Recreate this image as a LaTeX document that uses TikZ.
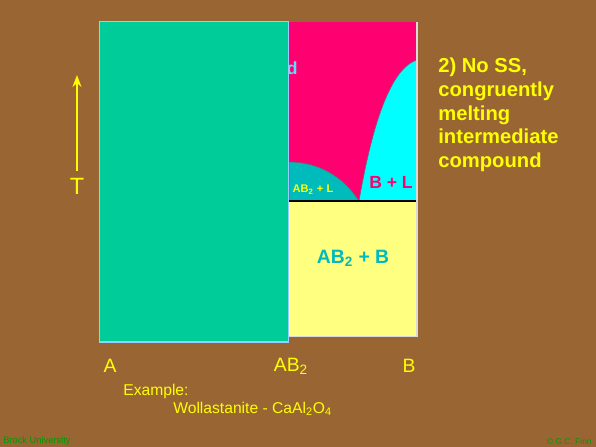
\documentclass[tikz,border=0pt]{standalone}
\usepackage{fontspec}
\setmainfont{Liberation Sans}
\usepackage{tikz}
\usetikzlibrary{arrows.meta,positioning}
\definecolor{slide}{HTML}{996633}
\definecolor{solidA}{HTML}{00CC99}
\definecolor{frameA}{HTML}{99CCFF}
\definecolor{liq}{HTML}{FF0070}
\definecolor{liqB}{HTML}{00FFFF}
\definecolor{liqAB}{HTML}{00BBBB}
\definecolor{solAB}{HTML}{FFFF80}
\definecolor{txty}{HTML}{FFFF00}
\definecolor{credit}{HTML}{009900}
\tikzset{
  pd/.style={x=0.02cm, y=-0.02cm, >=Stealth, every node/.style={inner sep=0pt, font=\sffamily}},
  field/.style={font=\bfseries},
  axlbl/.style={text=txty, font=\fontsize{11}{13}\selectfont},
  exlbl/.style={text=txty, font=\fontsize{8.9}{10}\selectfont, anchor=west},
  tarrow/.style={->, txty, line width=0.85pt, shorten >=0pt},
  credits/.style={text=credit}
}

\begin{document}
\begin{tikzpicture}[pd]
\fill[slide] (0,0) rectangle (596,447);
\useasboundingbox (0,0) rectangle (596,447);
% phase fields
\fill[liq] (289,22) rectangle (417,201);
\fill[solAB] (289,201) rectangle (417,336);
\filldraw[fill=liqAB, draw=black!60, line width=0.3pt] (289,201) -- (289,162) .. controls (318,162) and (343,176) .. (359,201) -- cycle;
\filldraw[fill=liqB, draw=black!60, line width=0.3pt] (359,201) .. controls (368,150) and (385,70) .. (417,60) -- (417,201) -- cycle;
\draw[black, line width=0.6pt] (289,201) -- (417,201);
\draw[gray!30, line width=0.8pt] (417,22) -- (417,336.5) -- (289,336.5);
\node[field, text=frameA!60!cyan, font=\bfseries\fontsize{10}{12}\selectfont, anchor=east] (liqtxt) at (298,68) {d};
% the solid A block
\filldraw[fill=solidA, draw=frameA, line width=1.1pt] (99.5,21.5) rectangle (288.5,342);
\node[field, text=txty, font=\bfseries\fontsize{6.3}{7}\selectfont] (abl) at (313,190) {AB\textsubscript{2} + L};
\node[field, text=liq, font=\bfseries\fontsize{10}{11}\selectfont] (bl) at (391,182) {B + L};
\node[field, text=liqAB, font=\bfseries\fontsize{11}{13}\selectfont] (abb) at (353,258) {AB\textsubscript{2} + B};
% temperature arrow
\node[axlbl, font=\fontsize{13.4}{15}\selectfont, anchor=north] (T) at (77,178) {T};
\coordinate (Ttop) at (77,75);
\draw[tarrow] ([yshift=4pt]T.north) -- (Ttop);
% composition axis
\node[axlbl] (A) at (110,366) {A};
\node[axlbl] (AB) at (291,366) {AB\textsubscript{2}};
\node[axlbl] (B) at (409,366) {B};
% example
\node[exlbl] (ex) at (123,391) {Example:};
\node[exlbl] (wol) at (173,409) {Wollastanite - CaAl\textsubscript{2}O\textsubscript{4}};
% heading
\node[text=txty, font=\bfseries\fontsize{11.5}{13.4}\selectfont, align=left, anchor=north west] (title) at (438,58) {2) No SS,\\congruently\\melting\\intermediate\\compound};
\node[credits, font=\fontsize{5.3}{6}\selectfont, anchor=west] (brock) at (3,441) {Brock University};
\node[credits, font=\fontsize{4.8}{6}\selectfont, anchor=east] (finn) at (592,441) {\textcopyright{} G.C. Finn};
\end{tikzpicture}
\end{document}
